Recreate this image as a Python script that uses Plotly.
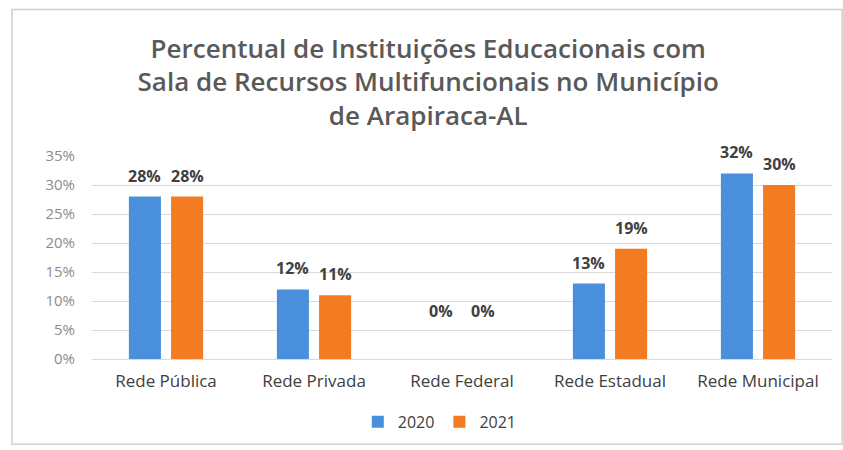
import plotly.graph_objects as go

categories = ["Rede Pública", "Rede Privada", "Rede Federal", "Rede Estadual", "Rede Municipal"]
values_2020 = [28, 12, 0, 13, 32]
values_2021 = [28, 11, 0, 19, 30]
y_ticks = [0, 5, 10, 15, 20, 25, 30, 35]
y_tick_text = [f"{t}%" for t in y_ticks]

blue = "#4A8FDB"
orange = "#F37B22"
FONT = "Open Sans, Lato, sans-serif"

fig = go.Figure()
fig.add_trace(go.Bar(name="2020", x=categories, y=values_2020, marker_color=blue,
                     marker_line_width=0, offsetgroup="a"))
fig.add_trace(go.Bar(name="2021", x=categories, y=values_2021, marker_color=orange,
                     marker_line_width=0, offsetgroup="b"))

L, R, T, B = 92, 11, 156, 89
W = 843 - L - R
H = 450 - T - B
bargap, groupgap = 0.43, 0.24
slot = (1 - bargap) / 2
for i, cat in enumerate(categories):
    for j, vals in enumerate([values_2020, values_2021]):
        v = vals[i]
        dx = (-slot / 2) if j == 0 else (slot / 2)
        fig.add_annotation(x=i + dx, y=v, xref="x", yref="y", text=f"<b>{v}%</b>",
                           showarrow=False, yshift=48 if v == 0 else 21,
                           font=dict(family=FONT, size=16, color="#404040"))

fig.update_layout(
    width=843, height=450,
    margin=dict(l=L, r=R, t=T, b=B),
    paper_bgcolor="white", plot_bgcolor="white",
    barmode="group", bargap=bargap, bargroupgap=groupgap,
    title=dict(text="Percentual de Instituições Educacionais com<br>Sala de Recursos Multifuncionais no Município<br>de Arapiraca-AL",
               x=0.508, xanchor="center", y=0.872, yanchor="middle",
               font=dict(family=FONT, size=26, color="#595959", weight=600)),
    font=dict(family=FONT, color="#595959"),
    legend=dict(orientation="h", x=0.47, xanchor="center", y=-0.31, yanchor="middle",
                font=dict(size=16, color="#404040"), itemwidth=30, traceorder="normal"),
    showlegend=True,
)
fig.update_xaxes(type="category", showgrid=False, showline=True, linecolor="#d9d9d9",
                 tickfont=dict(size=17, color="#404040"), ticks="", range=[-0.5, 4.5],
                 ticklabelstandoff=7)
fig.update_yaxes(range=[0, 35], tickvals=y_ticks, ticktext=y_tick_text, showgrid=True,
                 gridcolor="#d9d9d9", zeroline=False, showline=False,
                 tickfont=dict(size=15, color="#8c8c8c"), ticklabelstandoff=16)

fig.add_shape(type="rect", xref="paper", yref="paper",
              x0=(12 - L) / W, x1=(842 - L) / W,
              y0=(361 - 447) / H, y1=(361 - 8) / H,
              line=dict(color="#d0d0d0", width=1.5), layer="below")

fig.write_html("out.html", config={"displayModeBar": False},
               post_script="document.body.style.margin='0';document.body.style.overflow='hidden';")
